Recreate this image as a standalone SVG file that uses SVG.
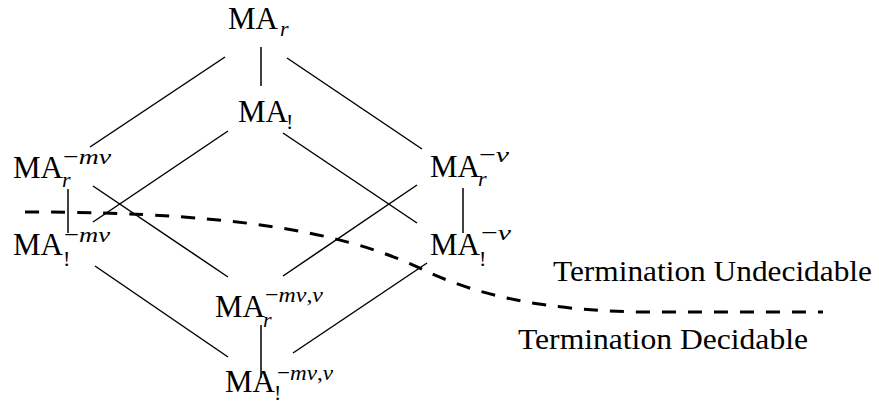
<svg xmlns="http://www.w3.org/2000/svg" width="879" height="404" viewBox="0 0 879 404">
<style>
text{font-family:"Liberation Serif","Times New Roman","DejaVu Serif",serif;fill:#000}
.ma{font-size:31px}
.sc{font-size:22px;font-style:italic}
.up{font-style:normal}
.lbl{font-size:29px}
.ln{stroke:#000;stroke-width:1.5;fill:none}
.dash{stroke:#000;stroke-width:3;fill:none;stroke-dasharray:14 12}
</style>
<rect width="879" height="404" fill="#fff"/>
<g id="connectors">
<line class="ln" x1="261" y1="47" x2="261" y2="86"/>
<line class="ln" x1="225" y1="57" x2="90" y2="147"/>
<line class="ln" x1="287" y1="58" x2="422" y2="149"/>
<line class="ln" x1="228" y1="131" x2="93" y2="222"/>
<line class="ln" x1="283" y1="133" x2="417" y2="223"/>
<line class="ln" x1="68" y1="189" x2="68" y2="233"/>
<line class="ln" x1="93" y1="186" x2="228" y2="277"/>
<line class="ln" x1="463" y1="188" x2="463" y2="233"/>
<line class="ln" x1="417" y1="185" x2="283" y2="276"/>
<line class="ln" x1="95" y1="266" x2="228" y2="357"/>
<line class="ln" x1="427" y1="263" x2="293" y2="353"/>
<line class="ln" x1="261" y1="325" x2="261" y2="378"/>
</g>
<g id="boundary">
<path class="dash" d="M25 212 C260 212 360 238 430 273 C480 295 540 310 640 312 L823 312"/>
<text class="lbl" x="553" y="281" textLength="319" lengthAdjust="spacingAndGlyphs">Termination Undecidable</text>
<text class="lbl" x="518" y="349" textLength="290" lengthAdjust="spacingAndGlyphs">Termination Decidable</text>
</g>
<g id="MA_r">
<text class="ma" x="228" y="29">MA</text>
<text class="sc" x="280" y="36">r</text>
</g>
<g id="MA_bang">
<text class="ma" x="238" y="122">MA</text>
<text class="sc up" x="286" y="129">!</text>
</g>
<g id="MA_r_mv">
<text class="ma" x="13" y="178">MA</text>
<text class="sc" x="63" y="164" textLength="48" lengthAdjust="spacingAndGlyphs"><tspan class="up">−</tspan>mv</text>
<text class="sc" x="62" y="187">r</text>
</g>
<g id="MA_bang_mv">
<text class="ma" x="13" y="255">MA</text>
<text class="sc up" x="63" y="266">!</text>
<text class="sc" x="64" y="242" textLength="46" lengthAdjust="spacingAndGlyphs"><tspan class="up">−</tspan>mv</text>
</g>
<g id="MA_r_nu">
<text class="ma" x="430" y="177">MA</text>
<text class="sc" x="479" y="162" textLength="30" lengthAdjust="spacingAndGlyphs"><tspan class="up">−</tspan>ν</text>
<text class="sc" x="478" y="186">r</text>
</g>
<g id="MA_bang_nu">
<text class="ma" x="430" y="255">MA</text>
<text class="sc up" x="479" y="266">!</text>
<text class="sc" x="481" y="240" textLength="30" lengthAdjust="spacingAndGlyphs"><tspan class="up">−</tspan>ν</text>
</g>
<g id="MA_r_mv_nu">
<text class="ma" x="215" y="317">MA</text>
<text class="sc" x="265" y="302" textLength="58" lengthAdjust="spacingAndGlyphs"><tspan class="up">−</tspan>mv<tspan class="up">,</tspan>ν</text>
<text class="sc" x="263" y="327">r</text>
</g>
<g id="MA_bang_mv_nu">
<text class="ma" x="225" y="392">MA</text>
<text class="sc up" x="274" y="400">!</text>
<text class="sc" x="277" y="380" textLength="56" lengthAdjust="spacingAndGlyphs"><tspan class="up">−</tspan>mv<tspan class="up">,</tspan>ν</text>
</g>
</svg>
